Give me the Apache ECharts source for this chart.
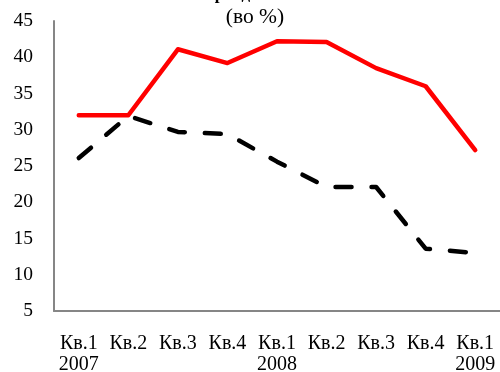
<!DOCTYPE html>
<html><head><meta charset="utf-8">
<script src="https://cdn.jsdelivr.net/npm/echarts@6/dist/echarts.min.js"></script>
<style>html,body{margin:0;padding:0;background:#fff}#c{width:500px;height:372px}</style>
</head><body><div id="c"></div>
<script>
var categories = ['Кв.1\n2007','Кв.2','Кв.3','Кв.4','Кв.1\n2008','Кв.2','Кв.3','Кв.4','Кв.1\n2009'];
var redSeries = [32.0, 32.0, 41.1, 39.2, 42.2, 42.1, 38.5, 36.0, 27.2];
var blackSeries = [26.1, 31.9, 29.7, 29.4, 25.6, 22.1, 22.1, 13.6, 13.0];
var yTicks = {min: 5, max: 45, interval: 5};
var titleLine1 = 'Тренды ставок';
var titleLine2 = '(во %)';

var font = 'Liberation Serif';
var chart = echarts.init(document.getElementById('c'), null, {renderer: 'canvas'});
chart.setOption({
  animation: false,
  backgroundColor: '#fff',
  title: [
    {text: titleLine1, left: 204, top: -14, padding: 0,
     textStyle: {fontFamily: font, fontSize: 17, fontWeight: 'bold', color: '#000'}},
    {text: titleLine2, left: 255, textAlign: 'center', top: 6, padding: 0,
     textStyle: {fontFamily: font, fontSize: 21.5, fontWeight: 'normal', color: '#000'}}
  ],
  grid: {left: 54, right: 0, top: 21, bottom: 61, containLabel: false, outerBoundsMode: 'none'},
  xAxis: {
    type: 'category', data: categories, boundaryGap: true,
    axisLine: {show: true, lineStyle: {color: '#868686', width: 2}},
    axisTick: {show: false},
    axisLabel: {fontFamily: font, fontSize: 20, color: '#000', margin: 22, lineHeight: 21, interval: 0}
  },
  yAxis: {
    type: 'value', min: yTicks.min, max: yTicks.max, interval: yTicks.interval,
    axisLine: {show: true, lineStyle: {color: '#868686', width: 2}},
    axisTick: {show: false},
    splitLine: {show: false},
    axisLabel: {fontFamily: font, fontSize: 19.5, color: '#000', margin: 21}
  },
  series: [
    {type: 'line', data: redSeries, symbol: 'none',
     lineStyle: {color: '#ff0000', width: 4.5, cap: 'round', join: 'round'}},
    {type: 'line', data: blackSeries, symbol: 'none',
     lineStyle: {color: '#000000', width: 4.5, type: [16, 20], cap: 'round', join: 'round'}}
  ]
});
</script></body></html>
